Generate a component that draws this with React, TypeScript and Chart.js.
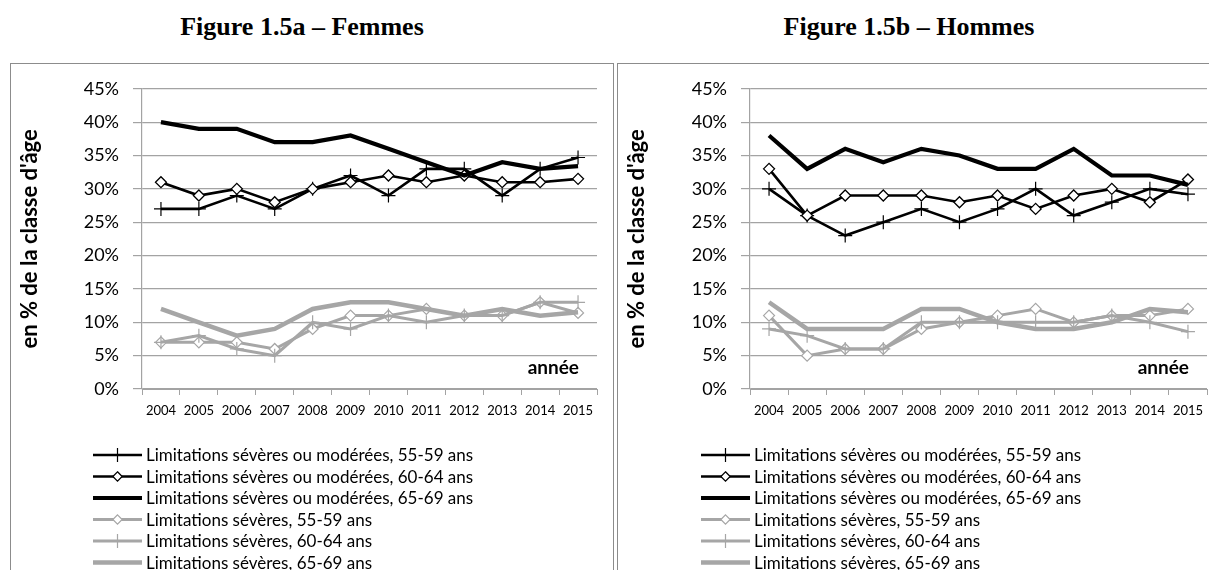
import React, { useEffect, useRef } from 'react';
import { Chart, registerables } from 'chart.js';

Chart.register(...registerables);

// ---------- DATA ----------
const years = ['2004', '2005', '2006', '2007', '2008', '2009', '2010', '2011', '2012', '2013', '2014', '2015'];
const yTicks = [0, 5, 10, 15, 20, 25, 30, 35, 40, 45];

const seriesLabels = [
  'Limitations sévères ou modérées, 55-59 ans',
  'Limitations sévères ou modérées, 60-64 ans',
  'Limitations sévères ou modérées, 65-69 ans',
  'Limitations sévères, 55-59 ans',
  'Limitations sévères, 60-64 ans',
  'Limitations sévères, 65-69 ans',
];

const femmesModere5559 = [27, 27, 29, 27, 30, 32, 29, 33, 33, 29, 33, 34.7];
const femmesModere6064 = [31, 29, 30, 28, 30, 31, 32, 31, 32, 31, 31, 31.5];
const femmesModere6569 = [40, 39, 39, 37, 37, 38, 36, 34, 32, 34, 33, 33.4];
const femmesSevere5559 = [7, 7, 7, 6, 9, 11, 11, 12, 11, 11, 13, 11.4];
const femmesSevere6064 = [7, 8, 6, 5, 10, 9, 11, 10, 11, 11, 13, 13];
const femmesSevere6569 = [12, 10, 8, 9, 12, 13, 13, 12, 11, 12, 11, 11.5];

const hommesModere5559 = [30, 26, 23, 25, 27, 25, 27, 30, 26, 28, 30, 29.2];
const hommesModere6064 = [33, 26, 29, 29, 29, 28, 29, 27, 29, 30, 28, 31.4];
const hommesModere6569 = [38, 33, 36, 34, 36, 35, 33, 33, 36, 32, 32, 30.6];
const hommesSevere5559 = [11, 5, 6, 6, 9, 10, 11, 12, 10, 11, 11, 12];
const hommesSevere6064 = [9, 8, 6, 6, 10, 10, 10, 10, 10, 11, 10, 8.6];
const hommesSevere6569 = [13, 9, 9, 9, 12, 12, 10, 9, 9, 10, 12, 11.5];

const femmesSeries = [femmesModere5559, femmesModere6064, femmesModere6569, femmesSevere5559, femmesSevere6064, femmesSevere6569];
const hommesSeries = [hommesModere5559, hommesModere6064, hommesModere6569, hommesSevere5559, hommesSevere6064, hommesSevere6569];

const yAxisTitle = "en % de la classe d'âge";
const xAxisTitle = 'année';

// ---------- STYLES ----------
const BLACK = '#000000';
const GREY = '#a6a6a6';
const GRID = '#a3a3a3';
const SANS = "Lato, 'Noto Sans', sans-serif";

type Style = { color: string; width: number; point: string | false; radius: number; bg: string; pbw: number };
const styles: Style[] = [
  { color: BLACK, width: 2.6, point: 'cross', radius: 7, bg: BLACK, pbw: 1.2 },
  { color: BLACK, width: 2.6, point: 'rectRot', radius: 5.5, bg: '#ffffff', pbw: 1.3 },
  { color: BLACK, width: 4.2, point: false, radius: 0, bg: BLACK, pbw: 0 },
  { color: GREY, width: 3, point: 'rectRot', radius: 5.5, bg: '#ffffff', pbw: 1.2 },
  { color: GREY, width: 3, point: 'cross', radius: 7, bg: GREY, pbw: 1.2 },
  { color: GREY, width: 4.5, point: false, radius: 0, bg: GREY, pbw: 0 },
];

function drawMarker(ctx: CanvasRenderingContext2D, s: Style, x: number, y: number) {
  if (!s.point) return;
  ctx.save();
  ctx.strokeStyle = s.color;
  ctx.lineWidth = s.pbw;
  ctx.beginPath();
  if (s.point === 'cross') {
    ctx.moveTo(x, y - s.radius);
    ctx.lineTo(x, y + s.radius);
    ctx.moveTo(x - s.radius, y);
    ctx.lineTo(x + s.radius, y);
    ctx.stroke();
  } else {
    const r = s.radius * 0.85;
    ctx.moveTo(x, y - r);
    ctx.lineTo(x + r, y);
    ctx.lineTo(x, y + r);
    ctx.lineTo(x - r, y);
    ctx.closePath();
    ctx.fillStyle = s.bg;
    ctx.fill();
    ctx.stroke();
  }
  ctx.restore();
}

const decorPlugin = {
  id: 'decor',
  afterDraw(chart: any) {
    const { ctx, chartArea } = chart;
    // y axis title
    ctx.save();
    ctx.translate(19, (chartArea.top + chartArea.bottom) / 2);
    ctx.rotate(-Math.PI / 2);
    ctx.font = `bold 22px ${SANS}`;
    ctx.fillStyle = '#000';
    ctx.textAlign = 'center';
    ctx.textBaseline = 'middle';
    ctx.fillText(yAxisTitle, 0, 0);
    ctx.restore();

    // "année"
    ctx.save();
    ctx.font = `bold 19px ${SANS}`;
    ctx.fillStyle = '#000';
    ctx.textAlign = 'right';
    ctx.textBaseline = 'middle';
    ctx.fillText(xAxisTitle, chartArea.right - 18, chartArea.bottom - 21);
    ctx.restore();

    // legend
    const x0 = chartArea.left - 49;
    const x1 = chartArea.left;
    for (let i = 0; i < seriesLabels.length; i++) {
      const y = 391 + 21.5 * i;
      const s = styles[i];
      ctx.save();
      ctx.strokeStyle = s.color;
      ctx.lineWidth = s.width;
      ctx.beginPath();
      ctx.moveTo(x0, y);
      ctx.lineTo(x1, y);
      ctx.stroke();
      ctx.restore();
      drawMarker(ctx, s, (x0 + x1) / 2, y);
      ctx.save();
      ctx.font = `17px ${SANS}`;
      ctx.fillStyle = '#000';
      ctx.textAlign = 'left';
      ctx.textBaseline = 'middle';
      ctx.fillText(seriesLabels[i], x1 + 4, y + 1);
      ctx.restore();
    }
  },
};

function buildConfig(series: number[][], yWidth: number, padRight: number): any {
  return {
    type: 'line',
    data: {
      labels: years,
      datasets: series.map((vals, i) => {
        const s = styles[i];
        return {
          label: seriesLabels[i],
          data: vals,
          borderColor: s.color,
          borderWidth: s.width,
          backgroundColor: s.bg,
          pointStyle: s.point,
          pointRadius: s.radius,
          pointBorderColor: s.color,
          pointBackgroundColor: s.bg,
          pointBorderWidth: s.pbw,
          pointHoverRadius: s.radius,
          tension: 0,
          fill: false,
          order: 5 - i,
        };
      }),
    },
    options: {
      responsive: false,
      animation: false,
      events: [],
      layout: { padding: { left: 0, right: padRight, top: 14, bottom: 151 } },
      plugins: { legend: { display: false }, tooltip: { enabled: false }, title: { display: false } },
      scales: {
        x: {
          type: 'category',
          offset: true,
          grid: { display: true, offset: true, drawOnChartArea: false, drawTicks: true, tickLength: 6, color: GRID, lineWidth: 1 },
          border: { display: true, color: GRID, width: 1 },
          ticks: { color: '#000', font: { family: SANS, size: 13 }, padding: 8, maxRotation: 0, autoSkip: false },
          afterFit: (s: any) => { s.height = 30; },
        },
        y: {
          min: 0,
          max: 45,
          afterBuildTicks: (s: any) => { s.ticks = yTicks.map((v) => ({ value: v })); },
          grid: { color: GRID, lineWidth: 1.2, drawTicks: true, tickLength: 9 },
          border: { display: true, color: GRID, width: 1.2 },
          ticks: { color: '#000', font: { family: SANS, size: 18 }, padding: 14, callback: (v: any) => `${v}%` },
          afterFit: (s: any) => { s.width = yWidth; },
        },
      },
    },
    plugins: [decorPlugin],
  };
}

function ChartBox(props: { series: number[][]; left: number; width: number; yWidth: number; padRight: number }) {
  const ref = useRef<HTMLCanvasElement | null>(null);
  useEffect(() => {
    if (!ref.current) return;
    const chart = new Chart(ref.current, buildConfig(props.series, props.yWidth, props.padRight));
    return () => chart.destroy();
  }, []);
  return (
    <div
      style={{
        position: 'absolute',
        left: props.left,
        top: 63,
        width: props.width,
        height: 520,
        border: '1px solid #8c8c8c',
      }}
    >
      <canvas ref={ref} width={props.width} height={506} style={{ display: 'block', width: props.width, height: 506 }} />
    </div>
  );
}

const titleStyle: React.CSSProperties = {
  position: 'absolute',
  top: 14,
  width: 604,
  textAlign: 'center',
  fontFamily: "'Liberation Serif', 'Times New Roman', serif",
  fontWeight: 'bold',
  fontSize: 26,
  lineHeight: '26px',
  color: '#000',
  whiteSpace: 'nowrap',
};

export default function App() {
  return (
    <div style={{ position: 'absolute', left: 0, top: 0, width: 1209, height: 570, overflow: 'hidden', background: '#fff' }}>
      <div style={{ ...titleStyle, left: 0 }}>Figure 1.5a – Femmes</div>
      <div style={{ ...titleStyle, left: 607 }}>Figure 1.5b – Hommes</div>
      <ChartBox series={femmesSeries} left={10} width={602} yWidth={131} padRight={16} />
      <ChartBox series={hommesSeries} left={617} width={600} yWidth={132} padRight={11} />
    </div>
  );
}
